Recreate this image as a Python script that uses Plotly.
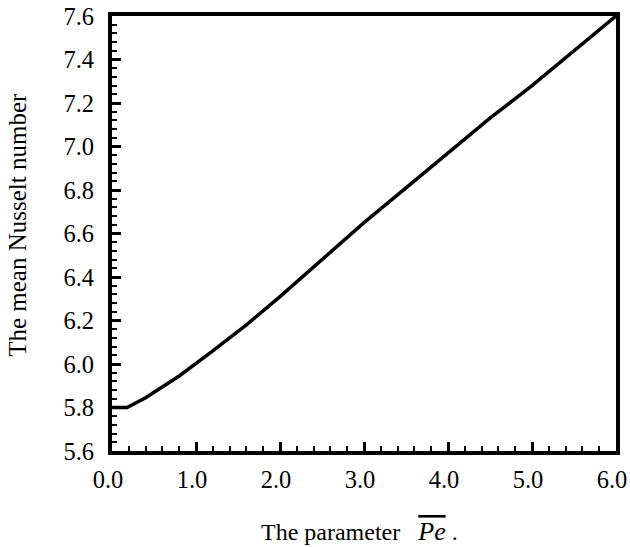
import plotly.graph_objects as go

pe = [0.0, 0.18, 0.4, 0.8, 1.2, 1.6, 2.0, 2.5, 3.0, 3.5, 4.0, 4.5, 5.0, 5.5, 6.0]
nusselt = [5.8, 5.8, 5.845, 5.945, 6.06, 6.18, 6.31, 6.48, 6.65, 6.81, 6.97, 7.13, 7.28, 7.44, 7.6]

x_ticks = [0, 1, 2, 3, 4, 5, 6]
x_labels = ["0.0", "1.0", "2.0", "3.0", "4.0", "5.0", "6.0"]
y_ticks = [5.6, 5.8, 6.0, 6.2, 6.4, 6.6, 6.8, 7.0, 7.2, 7.4, 7.6]
y_labels = ["5.6", "5.8", "6.0", "6.2", "6.4", "6.6", "6.8", "7.0", "7.2", "7.4", "7.6"]

font = "Liberation Serif"

fig = go.Figure()
fig.add_trace(go.Scatter(x=pe, y=nusselt, mode="lines",
                         line=dict(color="black", width=3.5), showlegend=False))

axis_common = dict(showline=True, linecolor="black", linewidth=4, mirror=True,
                   ticks="inside", tickcolor="black", tickwidth=2.5, ticklen=9,
                   showgrid=False, zeroline=False, automargin=False,
                   ticklabeloverflow="allow",
                   tickfont=dict(family=font, size=24.5, color="black"))

fig.update_xaxes(range=[0, 6], tickvals=x_ticks, ticktext=x_labels,
                 minor=dict(dtick=0.2, ticks="inside", ticklen=5, tickwidth=2, tickcolor="black"),
                 ticklabelstandoff=4, ticklabelshift=-4,
                 **axis_common)
fig.update_yaxes(range=[5.6, 7.6], tickvals=y_ticks, ticktext=y_labels,
                 minor=dict(dtick=0.04, ticks="inside", ticklen=5, tickwidth=2, tickcolor="black"),
                 ticklabelstandoff=9,
                 **axis_common)

fig.add_annotation(text='The parameter&nbsp;&nbsp; <span style="font-size:26px"><i><span style="text-decoration:overline">Pe</span></i></span> .',
                   xref="paper", yref="paper", x=0.492, y=-0.186,
                   xanchor="center", yanchor="middle", showarrow=False,
                   font=dict(family=font, size=24, color="black"))
fig.add_annotation(text="The mean Nusselt number", textangle=-90,
                   xref="paper", yref="paper", x=-0.1865, y=0.52,
                   xanchor="center", yanchor="middle", showarrow=False,
                   font=dict(family=font, size=25, color="black"))

fig.update_layout(width=630, height=547, margin=dict(l=112, r=14, t=16, b=96),
                  plot_bgcolor="white", paper_bgcolor="white")

fig.write_html("out.html", config={"displayModeBar": False})

# remove the browser's default 8px body margin so the figure fills the window exactly
with open("out.html", "r", encoding="utf-8") as f:
    html = f.read()
html = html.replace("<body>", '<body style="margin:0;padding:0;overflow:hidden">', 1)
with open("out.html", "w", encoding="utf-8") as f:
    f.write(html)
